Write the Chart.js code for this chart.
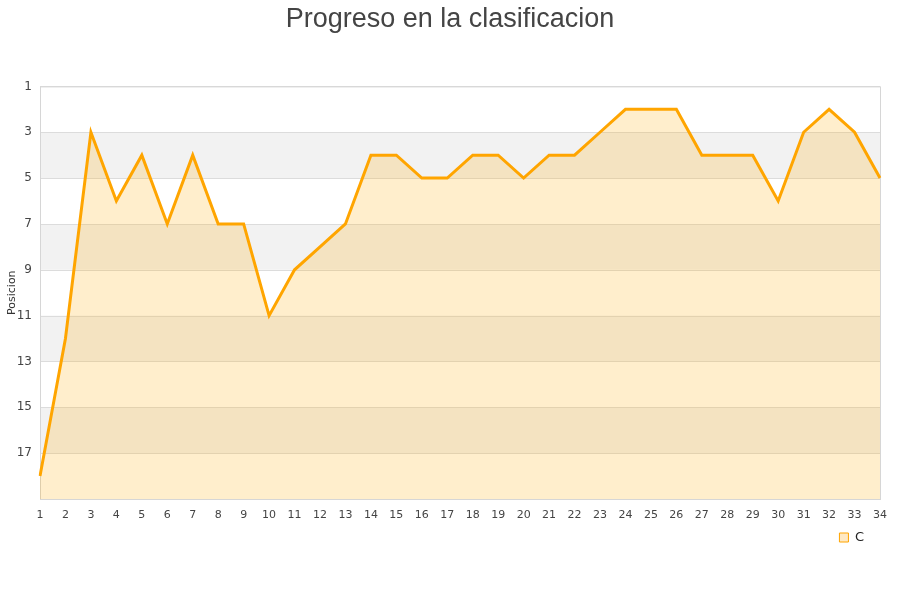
<!DOCTYPE html>
<html>
<head>
<meta charset="utf-8">
<script src="https://cdn.jsdelivr.net/npm/chart.js@4/dist/chart.umd.min.js"></script>
<style>
  html, body { margin: 0; padding: 0; background: #fff; }
  #wrap { width: 900px; height: 600px; }
</style>
</head>
<body>
<div id="wrap"><canvas id="chart"></canvas></div>
<script>
// Jornadas
var jornadas = ['1','2','3','4','5','6','7','8','9','10','11','12','13','14','15','16','17',
                '18','19','20','21','22','23','24','25','26','27','28','29','30','31','32','33','34'];
// Posicion en cada jornada
var posiciones = [18, 12, 3, 6, 4, 7, 4, 7, 7, 11, 9, 8, 7, 4, 4, 5, 5,
                  4, 4, 5, 4, 4, 3, 2, 2, 2, 4, 4, 4, 6, 3, 2, 3, 5];
// Franjas grises del fondo
var franjas = [[3, 5], [7, 9], [11, 13], [15, 17]];

// fondo con franjas y marco del area
var fondo = {
    id: 'fondo',
    afterLayout: function(chart) {
        // mover un poco la leyenda hacia la izquierda
        chart.legend.right -= 10;
    },
    beforeDatasetsDraw: function(chart) {
        var ctx = chart.ctx, a = chart.chartArea, y = chart.scales.y;
        ctx.save();
        ctx.fillStyle = '#f2f2f2';
        franjas.forEach(function(f) {
            var y1 = y.getPixelForValue(f[0]), y2 = y.getPixelForValue(f[1]);
            ctx.fillRect(a.left, y1, a.right - a.left, y2 - y1);
        });
        ctx.strokeStyle = '#dcdcdc';
        ctx.lineWidth = 1;
        y.ticks.forEach(function(t) {
            var p = Math.round(y.getPixelForValue(t.value)) + 0.5;
            ctx.beginPath();
            ctx.moveTo(a.left, p);
            ctx.lineTo(a.right, p);
            ctx.stroke();
        });
        ctx.strokeStyle = '#d6d6d6';
        ctx.strokeRect(a.left + 0.5, a.top + 0.5, a.right - a.left, a.bottom - a.top);
        ctx.restore();
    }
};

var ctx = document.getElementById('chart');
var myChart = new Chart(ctx, {
    type: 'line',
    data: {
        labels: jornadas,
        datasets: [{
            label: 'C',
            data: posiciones,
            borderColor: '#ffa500',
            borderWidth: 3,
            backgroundColor: 'rgba(255,170,0,0.2)',
            fill: { value: 19 },
            pointRadius: 0,
            tension: 0
        }]
    },
    options: {
        responsive: true,
        maintainAspectRatio: false,
        animation: false,
        layout: { padding: { left: 0, right: 0, top: 3, bottom: 46 } },
        plugins: {
            title: {
                display: true,
                text: 'Progreso en la clasificacion',
                color: '#444',
                font: { family: 'Liberation Sans, Arial, sans-serif', size: 27, weight: 'normal' },
                padding: { top: 0, bottom: 51 }
            },
            legend: {
                display: true,
                position: 'bottom',
                align: 'end',
                fullSize: false,
                labels: {
                    color: '#222',
                    boxWidth: 9,
                    boxHeight: 9,
                    padding: 6,
                    font: { family: 'DejaVu Sans, sans-serif', size: 13 },
                    generateLabels: function(chart) {
                        var items = Chart.defaults.plugins.legend.labels.generateLabels(chart);
                        items.forEach(function(it) {
                            it.lineWidth = 1;
                            it.fillStyle = '#ffe9c4';
                        });
                        return items;
                    }
                }
            },
            tooltip: { enabled: false }
        },
        scales: {
            x: {
                offset: false,
                grid: { display: false },
                border: { display: false },
                ticks: {
                    color: '#444',
                    maxRotation: 0,
                    autoSkip: false,
                    padding: 2,
                    font: { family: 'DejaVu Sans, sans-serif', size: 11 }
                },
                afterFit: function(s) { s.height = 26; }
            },
            y: {
                reverse: true,
                min: 1,
                max: 19,
                grid: { display: false },
                border: { display: false },
                title: {
                    display: true,
                    text: 'Posicion',
                    color: '#333',
                    padding: { top: 6, bottom: 0 },
                    font: { family: 'DejaVu Sans, sans-serif', size: 11 }
                },
                ticks: {
                    stepSize: 2,
                    color: '#444',
                    padding: 0,
                    font: { family: 'DejaVu Sans, sans-serif', size: 12 },
                    callback: function(v) { return v === 19 ? '' : v; }
                },
                afterFit: function(s) { s.width = 40; }
            },
            // eje vacio a la derecha para dejar el margen
            y2: {
                position: 'right',
                display: true,
                grid: { display: false },
                border: { display: false },
                ticks: { display: false },
                afterFit: function(s) { s.width = 20; }
            }
        }
    },
    plugins: [fondo]
});
</script>
</body>
</html>
